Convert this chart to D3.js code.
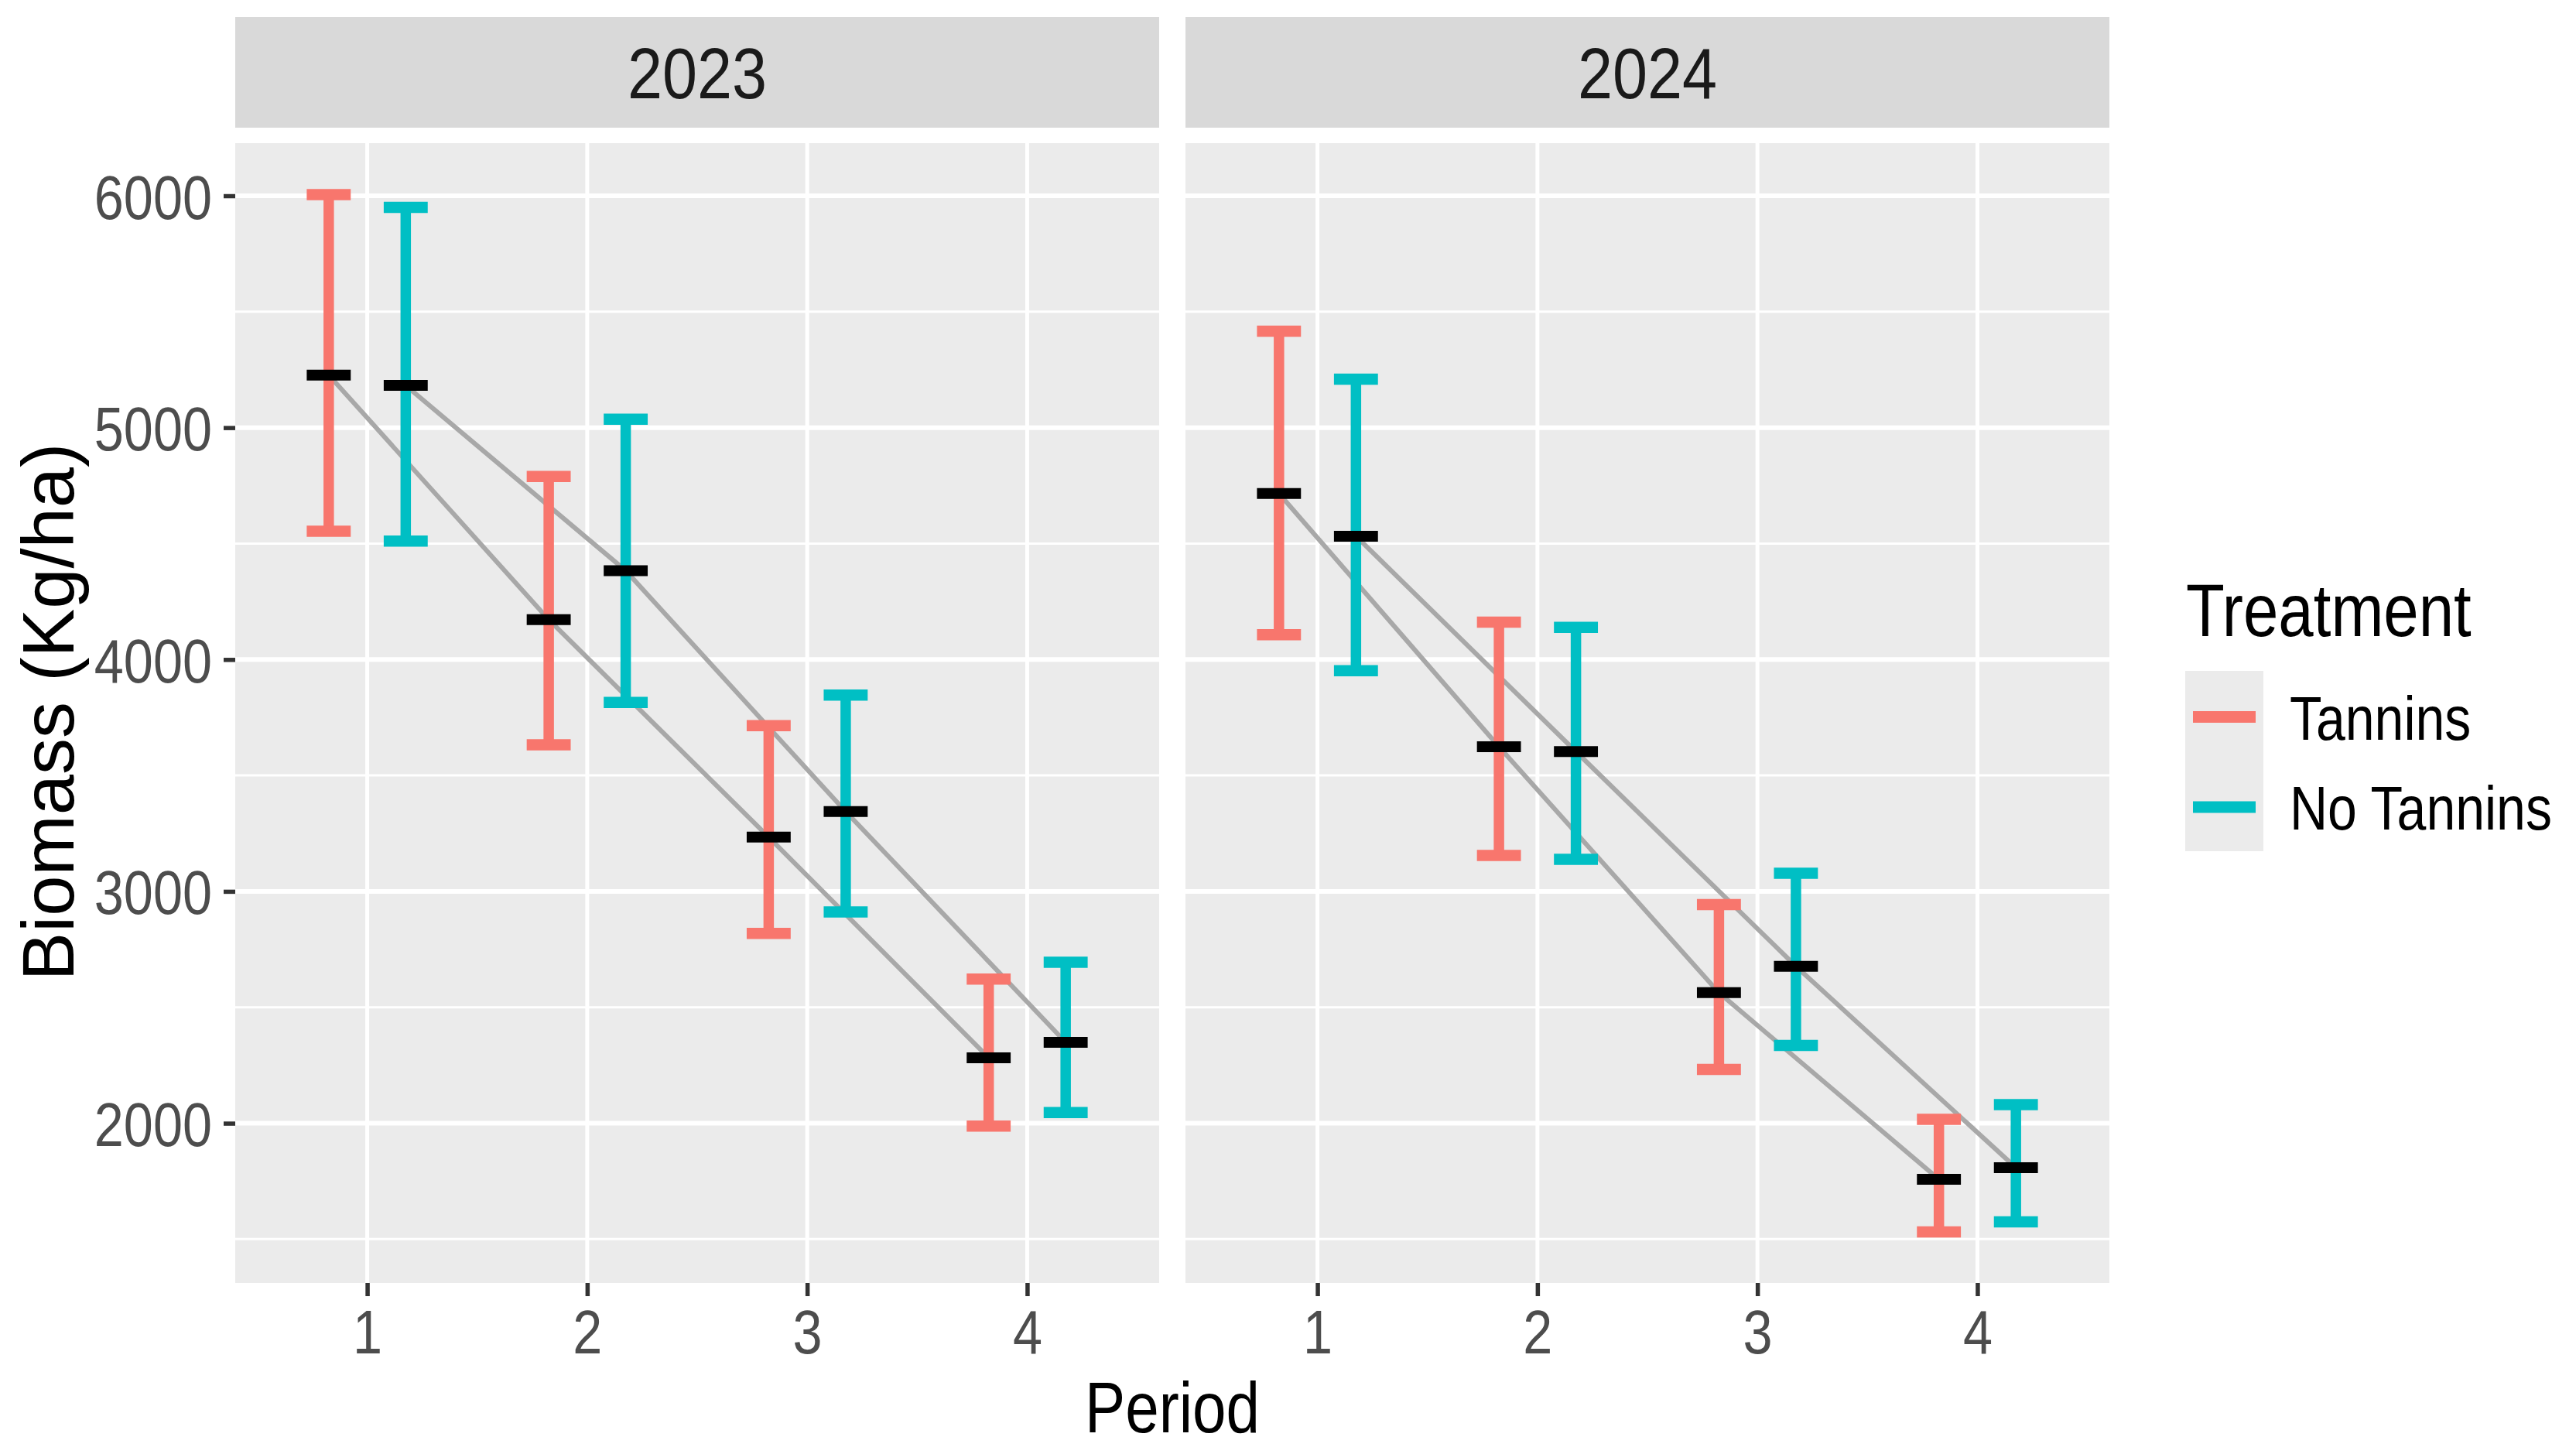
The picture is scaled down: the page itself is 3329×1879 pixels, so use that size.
<!DOCTYPE html>
<html>
<head>
<meta charset="utf-8">
<script src="https://cdn.jsdelivr.net/npm/d3@7"></script>
<style>
  html, body { margin: 0; padding: 0; background: #ffffff; }
  svg { display: block; }
  text { font-family: "Liberation Sans", Arial, sans-serif; }
</style>
</head>
<body>
<div id="chart"></div>
<script>
// ---------------- data ----------------
const periods = [1, 2, 3, 4];
const years = ["2023", "2024"];
const treatments = ["Tannins", "No Tannins"];
const yTicks = [2000, 3000, 4000, 5000, 6000];
const yMinorTicks = [1500, 2500, 3500, 4500, 5500];

// mean biomass (Kg/ha) per period
const mean2023Tannins   = [5227, 4172, 3234, 2282];
const lower2023Tannins  = [4553, 3632, 2819, 1988];
const upper2023Tannins  = [6005, 4789, 3715, 2622];
const mean2023NoTannins  = [5182, 4383, 3344, 2349];
const lower2023NoTannins = [4511, 3815, 2911, 2046];
const upper2023NoTannins = [5950, 5036, 3847, 2694];

const mean2024Tannins   = [4716, 3624, 2563, 1758];
const lower2024Tannins  = [4107, 3155, 2232, 1531];
const upper2024Tannins  = [5416, 4161, 2943, 2017];
const mean2024NoTannins  = [4532, 3603, 2677, 1808];
const lower2024NoTannins = [3952, 3138, 2336, 1575];
const upper2024NoTannins = [5209, 4139, 3078, 2080];

const seriesTable = {
  "2023": {
    "Tannins":    {mean: mean2023Tannins,   lower: lower2023Tannins,   upper: upper2023Tannins},
    "No Tannins": {mean: mean2023NoTannins, lower: lower2023NoTannins, upper: upper2023NoTannins}
  },
  "2024": {
    "Tannins":    {mean: mean2024Tannins,   lower: lower2024Tannins,   upper: upper2024Tannins},
    "No Tannins": {mean: mean2024NoTannins, lower: lower2024NoTannins, upper: upper2024NoTannins}
  }
};

// ---------------- layout ----------------
const W = 3329, H = 1879;
const SX = 0.85;                 // horizontal squeeze of the original figure's text
const panelTop = 185, panelBottom = 1658;
const stripTop = 22, stripBottom = 165;
const panelX = [[304, 1498], [1532, 2726]];
const dodge = 0.175, capHalf = 0.1;
const color = d3.scaleOrdinal().domain(treatments).range(["#F8766D", "#00BFC4"]);

const svg = d3.select("#chart").append("svg")
  .attr("width", W).attr("height", H)
  .attr("viewBox", `0 0 ${W} ${H}`);
svg.append("rect").attr("width", W).attr("height", H).attr("fill", "#ffffff");

const y = d3.scaleLinear().domain([1311, 6227]).range([panelBottom, panelTop]);

years.forEach((yr, i) => {
  const [x0, x1] = panelX[i];
  const x = d3.scaleLinear().domain([0.4, 4.6]).range([x0, x1]);
  const g = svg.append("g");

  // strip
  g.append("rect").attr("x", x0).attr("y", stripTop)
    .attr("width", x1 - x0).attr("height", stripBottom - stripTop).attr("fill", "#D9D9D9");
  g.append("text")
    .attr("transform", `translate(${(x0 + x1) / 2},127) scale(0.87,1)`)
    .attr("text-anchor", "middle").attr("font-size", 93).attr("fill", "#1A1A1A")
    .text(yr);

  // panel background
  g.append("rect").attr("x", x0).attr("y", panelTop)
    .attr("width", x1 - x0).attr("height", panelBottom - panelTop).attr("fill", "#EBEBEB");

  // grid
  g.selectAll(".minor").data(yMinorTicks).join("line")
    .attr("x1", x0).attr("x2", x1).attr("y1", d => y(d)).attr("y2", d => y(d))
    .attr("stroke", "#ffffff").attr("stroke-width", 3);
  g.selectAll(".majorY").data(yTicks).join("line")
    .attr("x1", x0).attr("x2", x1).attr("y1", d => y(d)).attr("y2", d => y(d))
    .attr("stroke", "#ffffff").attr("stroke-width", 6);
  g.selectAll(".majorX").data(periods).join("line")
    .attr("x1", d => x(d)).attr("x2", d => x(d)).attr("y1", panelTop).attr("y2", panelBottom)
    .attr("stroke", "#ffffff").attr("stroke-width", 5);

  // connecting lines through means
  treatments.forEach((t, k) => {
    const s = seriesTable[yr][t];
    const off = k === 0 ? -dodge : dodge;
    const line = d3.line().x((d, j) => x(periods[j] + off)).y(d => y(d));
    g.append("path").attr("d", line(s.mean))
      .attr("fill", "none").attr("stroke", "#A8A8A8").attr("stroke-width", 6);
  });

  // error bars
  treatments.forEach((t, k) => {
    const s = seriesTable[yr][t];
    const off = k === 0 ? -dodge : dodge;
    const c = color(t);
    periods.forEach((p, j) => {
      const cx = x(p + off);
      g.append("line").attr("x1", cx).attr("x2", cx)
        .attr("y1", y(s.lower[j])).attr("y2", y(s.upper[j]))
        .attr("stroke", c).attr("stroke-width", 13.5);
      [s.lower[j], s.upper[j]].forEach(v => {
        g.append("line").attr("x1", x(p + off - capHalf)).attr("x2", x(p + off + capHalf))
          .attr("y1", y(v)).attr("y2", y(v))
          .attr("stroke", c).attr("stroke-width", 14.5);
      });
    });
  });

  // mean markers
  treatments.forEach((t, k) => {
    const s = seriesTable[yr][t];
    const off = k === 0 ? -dodge : dodge;
    periods.forEach((p, j) => {
      g.append("line").attr("x1", x(p + off - capHalf)).attr("x2", x(p + off + capHalf))
        .attr("y1", y(s.mean[j])).attr("y2", y(s.mean[j]))
        .attr("stroke", "#000000").attr("stroke-width", 14);
    });
  });

  // x axis
  const xAxis = g.append("g").attr("transform", `translate(0,${panelBottom})`)
    .call(d3.axisBottom(x).tickValues(periods).tickFormat(d3.format("d")).tickSize(17).tickPadding(17));
  xAxis.select(".domain").remove();
  xAxis.selectAll(".tick line").attr("stroke", "#333333").attr("stroke-width", 5.5);
  xAxis.selectAll(".tick text").attr("font-size", 80.5).attr("fill", "#4D4D4D")
    .attr("font-family", "'Liberation Sans', Arial, sans-serif")
    .attr("transform", `scale(${SX},1)`);

  if (i === 0) {
    const yAxis = g.append("g").attr("transform", `translate(${x0},0)`)
      .call(d3.axisLeft(y).tickValues(yTicks).tickFormat(d3.format("d")).tickSize(15).tickPadding(15));
    yAxis.select(".domain").remove();
    yAxis.selectAll(".tick line").attr("stroke", "#333333").attr("stroke-width", 5.5);
    yAxis.selectAll(".tick text").attr("font-size", 80.5).attr("fill", "#4D4D4D")
      .attr("font-family", "'Liberation Sans', Arial, sans-serif")
      .attr("x", -30 / SX).attr("dy", "0.36em")
      .attr("transform", `scale(${SX},1)`);
  }
});

// axis titles
svg.append("text")
  .attr("transform", `translate(1515,1851) scale(${SX},1)`)
  .attr("text-anchor", "middle").attr("font-size", 92).attr("fill", "#000000")
  .text("Period");
svg.append("text")
  .attr("transform", `translate(95,920) rotate(-90)`)
  .attr("text-anchor", "middle").attr("font-size", 94).attr("fill", "#000000")
  .text("Biomass (Kg/ha)");

// legend
const leg = svg.append("g");
leg.append("text")
  .attr("transform", `translate(2825,822) scale(${SX},1)`)
  .attr("font-size", 96).attr("fill", "#000000").text("Treatment");
leg.append("rect").attr("x", 2824).attr("y", 867).attr("width", 101).attr("height", 233)
  .attr("fill", "#EBEBEB");
const legY = [926.5, 1043];
treatments.forEach((t, k) => {
  leg.append("line").attr("x1", 2834).attr("x2", 2915)
    .attr("y1", legY[k]).attr("y2", legY[k])
    .attr("stroke", color(t)).attr("stroke-width", 15);
  leg.append("text")
    .attr("transform", `translate(2959,${legY[k] + 29}) scale(${SX},1)`)
    .attr("font-size", 80).attr("fill", "#000000").text(t);
});
</script>
</body>
</html>
